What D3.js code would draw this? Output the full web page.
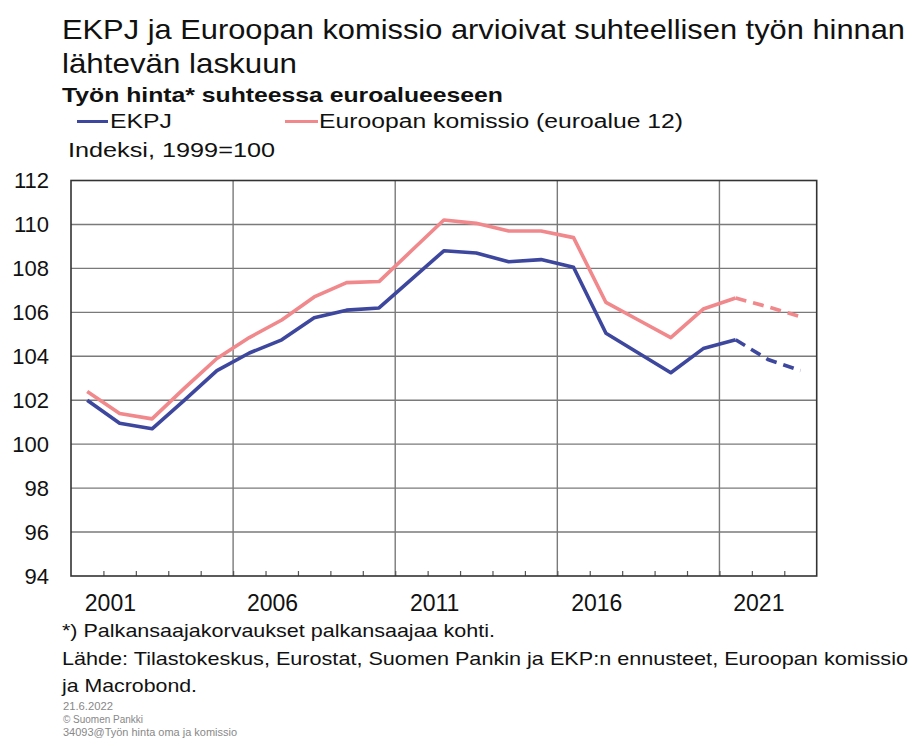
<!DOCTYPE html>
<html><head><meta charset="utf-8">
<script src="https://cdn.jsdelivr.net/npm/d3@7"></script>
<style>
html,body{margin:0;padding:0;background:#fff;}
svg{display:block;font-family:"Liberation Sans",Arial,sans-serif;}
</style></head>
<body><svg id="c" width="910" height="738"></svg>
<script>
const years = [2001,2002,2003,2004,2005,2006,2007,2008,2009,2010,2011,2012,2013,2014,2015,2016,2017,2018,2019,2020,2021,2022,2023];
const ekpj = [102.0,100.95,100.7,102.0,103.35,104.15,104.75,105.75,106.1,106.2,107.5,108.8,108.7,108.3,108.4,108.05,105.05,104.15,103.25,104.35,104.75,103.85,103.35];
const komissio = [102.4,101.4,101.15,102.55,103.9,104.85,105.65,106.7,107.35,107.4,108.8,110.2,110.05,109.7,109.7,109.4,106.45,105.65,104.85,106.15,106.65,106.25,105.8];
const lastActualYear = 2021;
const yTicks = [94,96,98,100,102,104,106,108,110,112];
const xLabelYears = [2001,2006,2011,2016,2021];
const gridYears = [2006,2011,2016,2021];

const svg = d3.select("#c");
const x = d3.scaleLinear().domain([2001,2024]).range([71,816.7]);
const y = d3.scaleLinear().domain([94,112]).range([576,180.5]);
const L = 71, R = 816.7, T = 180.5, B = 576;

// horizontal gridlines
svg.append("g").selectAll("line").data(yTicks.slice(1,-1)).join("line")
  .attr("x1",L).attr("x2",R).attr("y1",d=>y(d)).attr("y2",d=>y(d))
  .attr("stroke","#7a7a7a").attr("stroke-width",1.4);
// vertical gridlines
svg.append("g").selectAll("line").data(gridYears).join("line")
  .attr("x1",d=>x(d)).attr("x2",d=>x(d)).attr("y1",T).attr("y2",B)
  .attr("stroke","#7a7a7a").attr("stroke-width",1.4);

// minor ticks on bottom axis (inside)
const xAxis = d3.axisBottom(x).tickValues(d3.range(2002,2024)).tickSize(-5).tickFormat("");
const gx = svg.append("g").attr("transform",`translate(0,${B})`).call(xAxis);
gx.select(".domain").remove();
gx.selectAll(".tick line").attr("stroke","#555").attr("stroke-width",1.2);

// x labels
const xl = svg.append("g").attr("transform",`translate(0,${B})`)
  .call(d3.axisBottom(x).tickValues(xLabelYears).tickSize(0).tickFormat(d3.format("d")));
xl.select(".domain").remove();
xl.selectAll("text").attr("font-size",23).attr("font-family","Liberation Sans, Arial, sans-serif")
  .attr("fill","#111").attr("transform",d=>`translate(${x(d+1.2)-x(d)},0)`).attr("dy",0).attr("y",35);

// y labels
const yl = svg.append("g").attr("transform",`translate(49,0)`)
  .call(d3.axisLeft(y).tickValues(yTicks).tickSize(0).tickPadding(0));
yl.select(".domain").remove();
yl.selectAll("text").attr("font-size",22).attr("font-family","Liberation Sans, Arial, sans-serif").attr("fill","#111");

// plot frame
svg.append("rect").attr("x",L).attr("y",T).attr("width",R-L).attr("height",B-T)
  .attr("fill","none").attr("stroke","#333").attr("stroke-width",1.6);

// lines
const line = d3.line().x(d=>x(d[0]+0.5)).y(d=>y(d[1]));
function drawSeries(vals,color){
  const pts = years.map((yr,i)=>[yr,vals[i]]);
  const act = pts.filter(p=>p[0]<=lastActualYear);
  const fc = pts.filter(p=>p[0]>=lastActualYear);
  svg.append("path").attr("d",line(act)).attr("fill","none").attr("stroke",color)
    .attr("stroke-width",3.6).attr("stroke-linejoin","round");
  svg.append("path").attr("d",line(fc)).attr("fill","none").attr("stroke",color)
    .attr("stroke-width",3.6).attr("stroke-dasharray","11,7");
}
drawSeries(komissio,"#f0888c");
drawSeries(ekpj,"#3d479e");

// texts
function txt(s,xp,yp,size,opts={}){
  const t = svg.append("text").attr("x",xp).attr("y",yp).attr("font-size",size)
    .attr("fill",opts.fill||"#111").text(s);
  if(opts.bold) t.attr("font-weight","bold");
  if(opts.len) t.attr("textLength",opts.len).attr("lengthAdjust","spacingAndGlyphs");
  return t;
}
txt("EKPJ ja Euroopan komissio arvioivat suhteellisen työn hinnan",62,39,28,{len:843});
txt("lähtevän laskuun",62,73,28,{len:235});
txt("Työn hinta* suhteessa euroalueeseen",62,102,21,{bold:true,len:441});
svg.append("line").attr("x1",77).attr("x2",108).attr("y1",121.5).attr("y2",121.5).attr("stroke","#3d479e").attr("stroke-width",3);
txt("EKPJ",110,128,20,{len:62});
svg.append("line").attr("x1",285).attr("x2",318).attr("y1",121.5).attr("y2",121.5).attr("stroke","#f0888c").attr("stroke-width",3);
txt("Euroopan komissio (euroalue 12)",319,128,20,{len:364});
txt("Indeksi, 1999=100",68,157,20,{len:207});
txt("*) Palkansaajakorvaukset palkansaajaa kohti.",62,637,18.5,{len:433});
txt("Lähde: Tilastokeskus, Eurostat, Suomen Pankin ja EKP:n ennusteet, Euroopan komissio",62,665,18.5,{len:846});
txt("ja Macrobond.",62,692,18.5,{len:135});
txt("21.6.2022",63,710,10,{fill:"#888",len:50});
txt("© Suomen Pankki",63,723,10,{fill:"#888",len:80});
txt("34093@Työn hinta oma ja komissio",63,736,10,{fill:"#888",len:174});
</script></body></html>
